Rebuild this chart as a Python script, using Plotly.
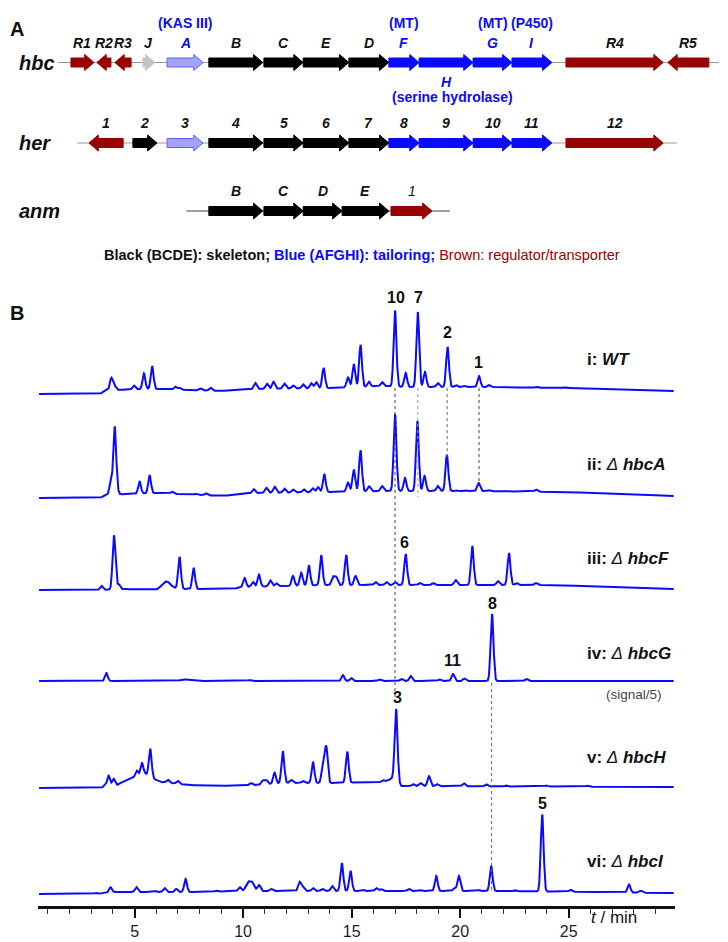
import numpy as np
import plotly.graph_objects as go

FONT = "Liberation Sans, Arial, sans-serif"
BLUE = "#0a0aff"
BROWN = "#990000"

# the page puts the figure 8px in from the top-left corner
PAGE_OFF = 8
W, H = 728 - PAGE_OFF, 942 - PAGE_OFF

# ---------------- Panel A: gene clusters (positions in kb) ----------------
HBC_GENES = [
    ("R1", 0.36, 1.00, 1, "brown"), ("R2", 1.08, 1.47, -1, "brown"),
    ("R3", 1.58, 2.03, -1, "brown"), ("J", 2.36, 2.69, 1, "gray"),
    ("A", 3.03, 4.03, 1, "light"), ("B", 4.19, 5.69, 1, "black"),
    ("C", 5.72, 6.81, 1, "black"), ("E", 6.81, 8.08, 1, "black"),
    ("D", 8.08, 9.19, 1, "black"), ("F", 9.19, 10.03, 1, "blue"),
    ("H", 10.03, 11.53, 1, "blue"), ("G", 11.53, 12.61, 1, "blue"),
    ("I", 12.61, 13.72, 1, "blue"), ("R4", 14.11, 16.81, 1, "brown"),
    ("R5", 16.94, 18.08, -1, "brown"),
]
HER_GENES = [
    ("1", 0.86, 1.81, -1, "brown"), ("2", 2.08, 2.75, 1, "black"),
    ("3", 3.03, 4.03, 1, "light"), ("4", 4.19, 5.69, 1, "black"),
    ("5", 5.72, 6.81, 1, "black"), ("6", 6.81, 8.08, 1, "black"),
    ("7", 8.08, 9.19, 1, "black"), ("8", 9.19, 10.03, 1, "blue"),
    ("9", 10.03, 11.53, 1, "blue"), ("10", 11.53, 12.61, 1, "blue"),
    ("11", 12.61, 13.72, 1, "blue"), ("12", 14.11, 16.81, 1, "brown"),
]
ANM_GENES = [
    ("B", 4.19, 5.69, 1, "black"), ("C", 5.72, 6.81, 1, "black"),
    ("D", 6.81, 7.89, 1, "black"), ("E", 7.89, 9.19, 1, "black"),
    ("1", 9.25, 10.39, 1, "brown"),
]
CLUSTER_NAMES = ["hbc", "her", "anm"]
CLUSTER_SPANS = [(0.0, 18.36), (0.53, 17.19), (3.56, 10.89)]
HBC_BLUE_LABELS = {"A", "F", "G", "I", "H"}
FUNCTION_NOTES = [("(KAS III)", 3.53), ("(MT)", 9.61), ("(MT)", 12.07), ("(P450)", 13.17)]

# ---------------- Panel B: chromatograms (t in min, heights) ----------------
T_START, T_END = 0.6, 29.85
TRACE_NAMES = ["<b>i: <i>WT</i></b>", "<b>ii: </b><i>Δ</i> <b><i>hbcA</i></b>",
               "<b>iii: </b><i>Δ</i> <b><i>hbcF</i></b>", "<b>iv: </b><i>Δ</i> <b><i>hbcG</i></b>",
               "<b>v: </b><i>Δ</i> <b><i>hbcH</i></b>", "<b>vi: </b><i>Δ</i> <b><i>hbcI</i></b>"]
OFFSETS = [512, 408, 316, 225, 118, 12]

BASE_WT = [(0.5, 0), (3.4, 0), (3.7, 4), (6, 5), (9, 3), (10.5, 5), (14, 6), (16.5, 8),
           (17.5, 7), (21, 7), (25, 6), (29.9, 3)]
PEAKS_WT = [(3.93, 12), (4.08, 4), (4.97, 4), (5.43, 16), (5.81, 23), (6.87, 3), (7.07, 2),
            (8.04, 2), (8.5, 3), (10.56, 6), (11.1, 5), (11.4, 7), (11.9, 5), (12.3, 3),
            (12.76, 4), (13.14, 5), (13.37, 6), (13.71, 20), (14.83, 10), (15.1, 23),
            (15.41, 42), (15.8, 5), (16.4, 4), (17.0, 76), (17.49, 14), (18.05, 75),
            (18.38, 15), (18.97, 4), (19.42, 40), (19.8, 2), (20.2, 1), (20.87, 11),
            (21.33, 2), (23.5, 1), (24.8, 1)]

BASE_A = [(0.5, 0), (3.4, 0), (3.7, 3), (6, 5), (9, 2), (10.5, 5), (14, 6), (16.5, 7),
          (21, 7), (25, 6), (29.9, 2)]
PEAKS_A = [(3.9, 12), (4.08, 66), (4.18, 6), (5.23, 12), (5.69, 18), (6.73, 2), (7.84, 1),
           (8.3, 2), (10.48, 4), (11.07, 5), (11.45, 6), (11.9, 4), (12.3, 3), (12.79, 3),
           (13.2, 4), (13.45, 5), (13.74, 18), (14.83, 9), (15.1, 22), (15.41, 41),
           (15.8, 5), (16.4, 5), (17.0, 77), (17.46, 13), (18.03, 70), (18.36, 15),
           (18.97, 5), (19.39, 36), (19.8, 1), (20.2, 1), (20.85, 8), (21.33, 1), (23.5, 2)]

BASE_F = [(0.5, 0), (3.3, 0), (4.5, 1), (6, 0), (6.8, 1), (9.5, 1), (10, 3), (14, 5),
          (17, 5), (20, 5), (24, 5), (29.9, 1)]
PEAKS_F = [(3.47, 4), (4.05, 54), (4.27, 5), (6.46, 8, 0.2), (7.07, 32), (7.72, 21),
           (10.07, 9), (10.45, 5), (10.73, 12), (11.25, 6), (11.53, 3), (12.3, 10),
           (12.68, 13), (13.03, 20), (13.6, 30), (14.14, 8), (14.29, 8), (14.75, 30),
           (15.18, 9), (16.1, 3), (16.6, 3), (17.0, 3), (17.49, 31), (18.14, 2),
           (18.75, 2), (19.79, 5), (20.56, 39), (21.74, 4), (22.25, 32), (22.59, 2), (23.5, 2)]

BASE_G = [(0.5, 0), (29.9, 0)]
PEAKS_G = [(3.7, 8), (7.3, 1.5, 0.2), (10.3, 1), (14.6, 6), (14.98, 3), (16.3, 1.5),
           (17.29, 2), (17.72, 5), (19.05, 1.5), (19.67, 7), (20.2, 2.5), (21.47, 67), (23.05, 2)]

BASE_H = [(0.5, 0), (3.5, 0), (4.2, 3), (4.6, 8), (5.5, 14), (5.9, 9), (6.2, 6), (7.5, 3),
          (9, 2), (10.5, 3), (12, 5), (14, 5), (16.5, 6), (16.9, 10), (17.3, 2), (29.9, 1)]
PEAKS_H = [(3.62, 2), (3.8, 11), (4.03, 7), (5.1, 6), (5.34, 12), (5.72, 28), (6.53, 3),
           (6.99, 3), (10.37, 2), (10.91, 4), (11.07, 4), (11.45, 11), (11.83, 32),
           (12.22, 3), (12.76, 2), (13.22, 21), (13.68, 20), (13.83, 36), (14.8, 31),
           (16.45, 2), (17.05, 72), (17.83, 2), (18.17, 3), (18.56, 10), (18.93, 2),
           (20.17, 3), (21.2, 2), (22.1, 1), (23.97, 1), (25.88, 1)]

BASE_I = [(0.5, 0), (3.2, 0), (4, 2), (8, 2), (10, 3), (14, 3), (18, 3), (22, 3), (29.9, 1)]
PEAKS_I = [(3.23, 1), (3.89, 5), (5.08, 5), (5.92, 1), (6.38, 4), (6.92, 3), (7.35, 13),
           (8.76, 1), (9.84, 4), (10.22, 8, 0.1), (10.42, 8, 0.1), (10.73, 6), (11.3, 2),
           (12.6, 9), (12.76, 4), (13.22, 3), (13.65, 2), (14.1, 5), (14.55, 28),
           (14.95, 20), (15.52, 1), (16.14, 3), (16.36, 2), (17.64, 2), (18.14, 1),
           (18.9, 15), (19.74, 3), (19.94, 15), (20.82, 1), (21.43, 25), (22.51, 1),
           (23.78, 77), (25.08, 2), (27.78, 8), (28.32, 2)]

BASELINES = [BASE_WT, BASE_A, BASE_F, BASE_G, BASE_H, BASE_I]
PEAK_LISTS = [PEAKS_WT, PEAKS_A, PEAKS_F, PEAKS_G, PEAKS_H, PEAKS_I]

# compound numbers: (label, t, y)
COMPOUND_LABELS = [("10", 17.03, 608), ("7", 18.09, 608), ("2", 19.42, 573), ("1", 20.85, 543),
                   ("6", 17.44, 364), ("8", 21.5, 303), ("11", 19.65, 246), ("3", 17.12, 209),
                   ("5", 23.8, 103)]
# dotted guide lines: (t, y_top, y_bottom, color)
GUIDES = [(17.0, 518, 206, "#444"), (18.05, 518, 409, "#999"), (19.4, 518, 449, "#666"),
          (20.87, 518, 423, "#444"), (21.45, 223, 16, "#666")]

COLORS = {"brown": (BROWN, BROWN), "black": ("#000", "#000"), "blue": (BLUE, BLUE),
          "light": ("#a3a3ff", "#6060ff"), "gray": ("#c4c4c4", "#c4c4c4")}
ROW_Y = [62.5, 143, 211]
BODY, HEAD, HEAD_LEN = 4.5, 8.0, 0.26


def arrow(start, end, strand, y):
    hl = min(HEAD_LEN, (end - start) * 0.8)
    if strand > 0:
        xs = [start, end - hl, end - hl, end, end - hl, end - hl, start, start]
    else:
        xs = [end, start + hl, start + hl, start, start + hl, start + hl, end, end]
    ys = [y - BODY, y - BODY, y - HEAD, y, y + HEAD, y + BODY, y + BODY, y - BODY]
    return xs, ys


def px_x(px):
    return (px - PAGE_OFF) / W


def px_y(py):
    return (H - (py - PAGE_OFF)) / H


fig = go.Figure()
annotations = []

for row, (name, genes, span) in enumerate(zip(CLUSTER_NAMES, [HBC_GENES, HER_GENES, ANM_GENES], CLUSTER_SPANS)):
    y = ROW_Y[row]
    fig.add_trace(go.Scatter(x=list(span), y=[y, y], mode="lines", xaxis="x2", yaxis="y2",
                             line=dict(color="#999" if row < 2 else "#444", width=1),
                             hoverinfo="skip"))
    for label, s, e, strand, kind in genes:
        xs, ys = arrow(s, e, strand, y)
        fill, edge = COLORS[kind]
        fig.add_trace(go.Scatter(x=xs, y=ys, mode="lines", fill="toself", fillcolor=fill,
                                 line=dict(color=edge, width=1), xaxis="x2", yaxis="y2",
                                 hoverinfo="skip"))
        color = BLUE if (row == 0 and label in HBC_BLUE_LABELS) else "#111"
        ly = y + 19 if (row == 0 and label == "H") else y - 20
        txt = f"<b><i>{label}</i></b>" if not (row == 2 and label == "1") else f"<i>{label}</i>"
        annotations.append(dict(x=(s + e) / 2, y=ly, xref="x2", yref="y2", text=txt,
                                showarrow=False, font=dict(family=FONT, size=14, color=color)))
    annotations.append(dict(x=-1.14, y=y, xref="x2", yref="y2", text=f"<b><i>{name}</i></b>",
                            xanchor="left", showarrow=False,
                            font=dict(family=FONT, size=20, color="#111")))

for note, xc in FUNCTION_NOTES:
    annotations.append(dict(x=xc, y=23, xref="x2", yref="y2", text=f"<b>{note}</b>",
                            showarrow=False, font=dict(family=FONT, size=14, color=BLUE)))
annotations.append(dict(x=10.95, y=97, xref="x2", yref="y2", text="<b>(serine hydrolase)</b>",
                        showarrow=False, font=dict(family=FONT, size=14, color=BLUE)))
annotations.append(dict(x=px_x(362), y=255, xref="paper", yref="y2",
                        text="<b>Black (BCDE): skeleton; </b><span style='color:%s'><b>Blue (AFGHI): tailoring; </b></span>"
                             "<span style='color:%s'>Brown: regulator/transporter</span>" % (BLUE, BROWN),
                        showarrow=False, font=dict(family=FONT, size=14.5, color="#111")))
annotations.append(dict(x=px_x(8), y=px_y(16), xref="paper", yref="paper", xanchor="left",
                        text="<b>A</b>", showarrow=False, font=dict(family=FONT, size=20, color="#111")))
annotations.append(dict(x=px_x(8), y=px_y(300), xref="paper", yref="paper", xanchor="left",
                        text="<b>B</b>", showarrow=False, font=dict(family=FONT, size=20, color="#111")))

# chromatograms
t = np.arange(T_START, T_END, 0.01)
for off, base, peaks in zip(OFFSETS, BASELINES, PEAK_LISTS):
    bt, bv = zip(*base)
    sig = np.interp(t, bt, bv).astype(float)
    for p in peaks:
        w = p[2] if len(p) > 2 else 0.065
        sig += p[1] * np.exp(-0.5 * ((t - p[0]) / w) ** 2)
    fig.add_trace(go.Scatter(x=t, y=off + sig, mode="lines", line=dict(color=BLUE, width=2),
                             hoverinfo="skip"))

shapes = []
for tg, y0, y1, col in GUIDES:
    shapes.append(dict(type="line", xref="x", yref="y", x0=tg, x1=tg, y0=y0, y1=y1,
                       line=dict(color=col, width=1, dash="dot")))

for lab, tx, ty in COMPOUND_LABELS:
    annotations.append(dict(x=tx, y=ty, xref="x", yref="y", text=f"<b>{lab}</b>", showarrow=False,
                            font=dict(family=FONT, size=16, color="#111")))

for name, off, dy in zip(TRACE_NAMES, OFFSETS, [34, 33, 32, 28, 31, 33]):
    annotations.append(dict(x=25.75, y=off + dy, xref="x", yref="y", text=name, xanchor="left",
                            showarrow=False, font=dict(family=FONT, size=17, color="#111")))
annotations.append(dict(x=28.0, y=212, xref="x", yref="y", text="(signal/5)", showarrow=False,
                        font=dict(family=FONT, size=13.5, color="#444")))
annotations.append(dict(x=27.1, y=px_y(929), xref="x", yref="paper", text="<i>t</i> / min",
                        showarrow=False, font=dict(family=FONT, size=17, color="#111")))

# panel B: 1 y-unit = 1 px, axis line at page y=906
Y_TOP = 630
fig.update_layout(
    width=W, height=H, margin=dict(l=0, r=0, t=0, b=0),
    paper_bgcolor="white", plot_bgcolor="white", showlegend=False,
    xaxis=dict(domain=[px_x(38), px_x(675)], range=[0.55, 29.9], showgrid=False, zeroline=False,
               showline=True, linewidth=3, linecolor="#111", ticks="outside", ticklen=9,
               tickwidth=2, tickcolor="#111", tick0=0, dtick=5,
               tickfont=dict(family=FONT, size=16, color="#222"),
               minor=dict(dtick=1, ticks="outside", ticklen=5, tickwidth=1, tickcolor="#333")),
    yaxis=dict(domain=[px_y(906), px_y(906 - Y_TOP)], range=[0, Y_TOP], visible=False),
    xaxis2=dict(domain=[0, 1], range=[(PAGE_OFF - 58) / 36, (728 - 58) / 36], visible=False,
                anchor="y2"),
    yaxis2=dict(domain=[px_y(280), 1], range=[280, PAGE_OFF], visible=False, anchor="x2"),
    annotations=annotations, shapes=shapes,
)

fig.write_html("out.html")
